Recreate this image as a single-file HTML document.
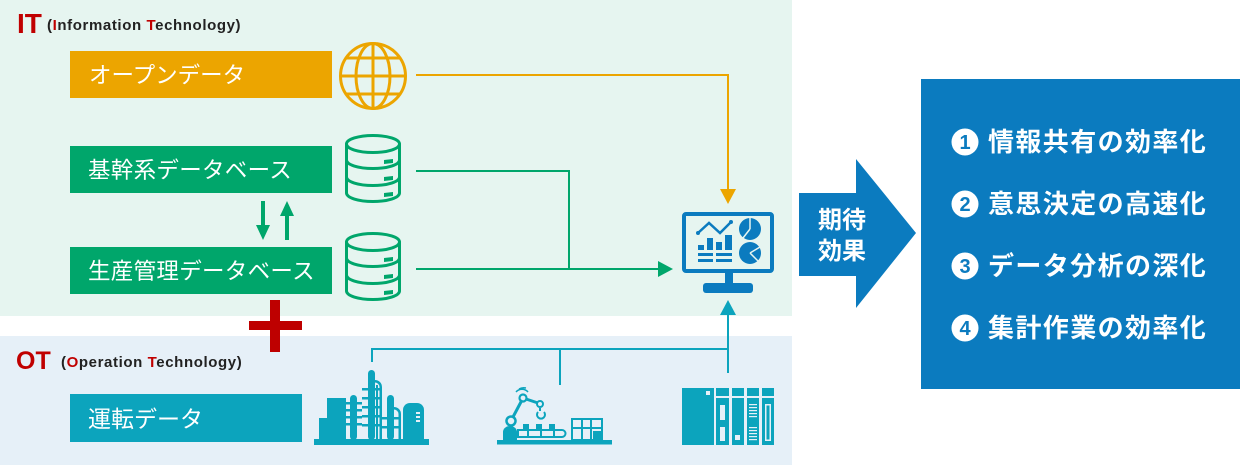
<!DOCTYPE html>
<html><head><meta charset="utf-8"><style>
html,body{margin:0;padding:0;background:#fff;}
svg{display:block;}
text{font-family:"Liberation Sans","Noto Sans CJK JP",sans-serif;}
.jp{font-family:"Noto Sans CJK JP","Liberation Sans",sans-serif;}
</style></head><body>
<svg width="1240" height="465" viewBox="0 0 1240 465" xmlns="http://www.w3.org/2000/svg">
<!-- panels -->
<rect x="0" y="0" width="792" height="316" fill="#e6f5f0"/>
<rect x="0" y="336" width="792" height="129" fill="#e6f0f8"/>

<!-- IT label -->
<text x="17" y="33" font-size="28" font-weight="bold" fill="#c00000">IT</text>
<text x="47" y="30" font-size="15" font-weight="bold" fill="#222" letter-spacing="0.6">(<tspan fill="#c00000">I</tspan>nformation <tspan fill="#c00000">T</tspan>echnology)</text>

<!-- OT label -->
<text x="16" y="369" font-size="25" font-weight="bold" fill="#c00000">OT</text>
<text x="61" y="367" font-size="15" font-weight="bold" fill="#222" letter-spacing="0.6">(<tspan fill="#c00000">O</tspan>peration <tspan fill="#c00000">T</tspan>echnology)</text>

<!-- boxes -->
<rect x="70" y="51" width="262" height="47" fill="#eca500"/>
<text class="jp" x="89" y="83" font-size="22.5" fill="#fff">オープンデータ</text>
<rect x="70" y="146" width="262" height="47" fill="#00a66b"/>
<text class="jp" x="88" y="178" font-size="22.5" fill="#fff" letter-spacing="0.3">基幹系データベース</text>
<rect x="70" y="247" width="262" height="47" fill="#00a66b"/>
<text class="jp" x="88" y="279" font-size="22.5" fill="#fff" letter-spacing="0.3">生産管理データベース</text>
<rect x="70" y="394" width="232" height="48" fill="#0ca4bd"/>
<text class="jp" x="88" y="427" font-size="23" fill="#fff">運転データ</text>

<!-- up/down arrows -->
<g fill="#00a66b">
<rect x="261" y="201" width="4" height="26"/>
<polygon points="256,225 270,225 263,240"/>
<rect x="285" y="214" width="4" height="26"/>
<polygon points="280,216 294,216 287,201"/>
</g>

<!-- red plus -->
<rect x="270" y="300" width="10" height="52" fill="#be0000"/>
<rect x="249" y="321" width="53" height="9" fill="#be0000"/>

<!-- globe -->
<g fill="none" stroke="#eca500" stroke-width="3">
<circle cx="373" cy="76" r="32.5"/>
<ellipse cx="373" cy="76" rx="17" ry="32.5"/>
<line x1="373" y1="43.5" x2="373" y2="108.5"/>
<line x1="340.5" y1="76" x2="405.5" y2="76"/>
<line x1="346" y1="58" x2="400" y2="58"/>
<line x1="346" y1="94" x2="400" y2="94"/>
</g>

<!-- DB icons -->
<g fill="none" stroke="#00a66b" stroke-width="3">
<ellipse cx="373" cy="144" rx="26.5" ry="8.5"/>
<path d="M346.5,144 v49 a26.5,8.5 0 0 0 53,0 v-49"/>
<path d="M346.5,160 a26.5,8.5 0 0 0 53,0"/>
<path d="M346.5,177 a26.5,8.5 0 0 0 53,0"/>
</g>
<g fill="#00a66b">
<polygon points="384,160 393,159 393,163 384,164"/>
<polygon points="384,177 393,176 393,180 384,181"/>
<polygon points="384,193 393,192 393,196 384,197"/>
</g>
<g transform="translate(0,98)">
<g fill="none" stroke="#00a66b" stroke-width="3">
<ellipse cx="373" cy="144" rx="26.5" ry="8.5"/>
<path d="M346.5,144 v49 a26.5,8.5 0 0 0 53,0 v-49"/>
<path d="M346.5,160 a26.5,8.5 0 0 0 53,0"/>
<path d="M346.5,177 a26.5,8.5 0 0 0 53,0"/>
</g>
<g fill="#00a66b">
<polygon points="384,160 393,159 393,163 384,164"/>
<polygon points="384,177 393,176 393,180 384,181"/>
<polygon points="384,193 393,192 393,196 384,197"/>
</g>
</g>

<!-- connectors -->
<polyline points="416,75 728,75 728,190" fill="none" stroke="#eca500" stroke-width="2"/>
<polygon points="720,189 736,189 728,204" fill="#eca500"/>
<polyline points="416,171 569,171 569,269" fill="none" stroke="#00a66b" stroke-width="2"/>
<line x1="416" y1="269" x2="660" y2="269" stroke="#00a66b" stroke-width="2"/>
<polygon points="658,261 658,277 673,269" fill="#00a66b"/>
<g stroke="#0ca4bd" stroke-width="2" fill="none">
<polyline points="372,362 372,349 728,349 728,312"/>
<line x1="560" y1="349" x2="560" y2="385"/>
<line x1="728" y1="349" x2="728" y2="373"/>
</g>
<polygon points="720,315 736,315 728,300" fill="#0ca4bd"/>

<!-- monitor -->
<g fill="#0b7bbf">
<rect x="684" y="214" width="88" height="57" rx="2" fill="none" stroke="#0b7bbf" stroke-width="4"/>
<rect x="725" y="272" width="8" height="12"/>
<rect x="703" y="283" width="50" height="10" rx="3"/>
<polyline points="698,233 709,223 720,233 731,222" fill="none" stroke="#0b7bbf" stroke-width="2.5"/>
<circle cx="698" cy="233" r="2"/><circle cx="731" cy="222" r="2"/>
<rect x="698" y="245" width="6" height="5"/>
<rect x="707" y="238" width="6" height="12"/>
<rect x="716" y="242" width="6" height="8"/>
<rect x="725" y="235" width="7" height="15"/>
<rect x="698" y="253" width="15" height="3"/><rect x="716" y="253" width="16" height="3"/>
<rect x="698" y="259" width="15" height="3"/><rect x="716" y="259" width="16" height="3"/>
<circle cx="750" cy="229" r="11"/>
<circle cx="750" cy="253" r="11"/>
</g>
<g stroke="#e6f5f0" stroke-width="1.5">
<line x1="750" y1="229" x2="750" y2="217"/><line x1="750" y1="229" x2="743" y2="238"/>
<line x1="750" y1="253" x2="760" y2="247"/><line x1="750" y1="253" x2="758" y2="261"/>
</g>

<!-- factory -->
<g fill="#0ca4bd">
<rect x="314" y="439" width="115" height="6"/>
<rect x="319" y="418" width="9" height="22"/>
<rect x="327" y="398" width="19" height="42"/>
<rect x="350" y="395" width="7" height="45" rx="3.5"/>
<rect x="346" y="402" width="16" height="2.5"/>
<rect x="346" y="409" width="16" height="2.5"/>
<rect x="346" y="416" width="16" height="2.5"/>
<rect x="346" y="423" width="16" height="2.5"/>
<rect x="368" y="370" width="7" height="70" rx="3.5"/>
<path d="M375,380 a7,7 0 0 1 7,7 v53 h-2.5 v-53 a4.5,4.5 0 0 0 -4.5,-4.5 z"/>
<rect x="376" y="385" width="2" height="55"/>
<rect x="362" y="388" width="20" height="2.5"/>
<rect x="362" y="397" width="20" height="2.5"/>
<rect x="362" y="406" width="20" height="2.5"/>
<rect x="362" y="415" width="20" height="2.5"/>
<rect x="362" y="424" width="20" height="2.5"/>
<rect x="387" y="395" width="7" height="45" rx="3.5"/>
<path d="M394,407 a7,7 0 0 1 7,7 v26 h-2.5 v-26 a4.5,4.5 0 0 0 -4.5,-4.5 z"/>
<rect x="381" y="417" width="18" height="2.5"/>
<rect x="381" y="426" width="18" height="2.5"/>
<path d="M403,440 v-30 a7,7 0 0 1 7,-7 h7 a7,7 0 0 1 7,7 v30 z"/>
</g>
<g fill="#e6f0f8">
<rect x="416" y="412" width="4" height="2"/><rect x="416" y="416" width="4" height="2"/><rect x="416" y="420" width="4" height="2"/>
</g>

<!-- robot line -->
<g fill="#0ca4bd">
<rect x="497" y="440" width="115" height="4.5"/>
<path d="M503,440 v-8 a7,6 0 0 1 14,0 v8 z"/>
<circle cx="511" cy="421" r="4.5" fill="none" stroke="#0ca4bd" stroke-width="2.5"/>
<line x1="513" y1="417" x2="522" y2="400" stroke="#0ca4bd" stroke-width="3"/>
<circle cx="523" cy="398" r="3.5" fill="none" stroke="#0ca4bd" stroke-width="2.2"/>
<line x1="526" y1="399" x2="538" y2="403" stroke="#0ca4bd" stroke-width="3"/>
<circle cx="540" cy="404" r="3" fill="none" stroke="#0ca4bd" stroke-width="2"/>
<path d="M540,408 v3 M538,412 a4,4 0 1 0 6,0" fill="none" stroke="#0ca4bd" stroke-width="2"/>
<path d="M516,392 a8,8 0 0 1 12,0 M519,389 a8,6 0 0 1 7,-1" fill="none" stroke="#0ca4bd" stroke-width="1.5"/>
<path d="M518,430 h44 a3.5,3.5 0 0 1 0,7 h-44 z" fill="none" stroke="#0ca4bd" stroke-width="2"/>
<rect x="523" y="424" width="6" height="6"/>
<rect x="536" y="424" width="6" height="6"/>
<rect x="549" y="424" width="6" height="6"/>
<rect x="527" y="430" width="2" height="7"/><rect x="540" y="430" width="2" height="7"/><rect x="553" y="430" width="2" height="7"/>
<rect x="572" y="419" width="30" height="21" fill="none" stroke="#0ca4bd" stroke-width="2"/>
<rect x="581" y="419" width="2" height="21"/><rect x="590" y="419" width="2" height="21"/>
<rect x="572" y="427" width="30" height="2"/>
<rect x="593" y="431" width="8" height="9"/>
</g>

<!-- PLC -->
<g fill="#0ca4bd">
<rect x="682" y="388" width="32" height="57"/>
<rect x="716" y="388" width="13" height="8"/><rect x="732" y="388" width="12" height="8"/>
<rect x="747" y="388" width="12" height="8"/><rect x="762" y="388" width="12" height="8"/>
<rect x="716" y="398" width="13" height="47"/><rect x="732" y="398" width="12" height="47"/>
<rect x="747" y="398" width="12" height="47"/><rect x="762" y="398" width="12" height="47"/>
</g>
<g fill="#e6f0f8">
<rect x="706" y="391" width="4" height="4"/>
<rect x="720" y="405" width="5" height="15"/>
<rect x="720" y="427" width="5" height="14"/>
<rect x="735" y="435" width="5" height="5"/>
<rect x="749" y="404" width="8" height="1.2"/><rect x="749" y="407" width="8" height="1.2"/><rect x="749" y="410" width="8" height="1.2"/><rect x="749" y="413" width="8" height="1.2"/><rect x="749" y="416" width="8" height="1.2"/>
<rect x="749" y="427" width="8" height="1.2"/><rect x="749" y="430" width="8" height="1.2"/><rect x="749" y="433" width="8" height="1.2"/><rect x="749" y="436" width="8" height="1.2"/><rect x="749" y="439" width="8" height="1.2"/>
<path d="M765,404 h6 v37 h-6 z M766.5,405.5 v34 h3 v-34 z" fill-rule="evenodd"/>
</g>

<!-- big arrow -->
<polygon points="799,193 856,193 856,159 916,233 856,308 856,276 799,276" fill="#0b7bbf"/>
<text class="jp" x="842" y="228" font-size="24" font-weight="bold" fill="#fff" text-anchor="middle">期待</text>
<text class="jp" x="842" y="259" font-size="24" font-weight="bold" fill="#fff" text-anchor="middle">効果</text>

<!-- result box -->
<rect x="921" y="79" width="319" height="310" fill="#0b7bbf"/>
<g font-weight="bold">
<circle cx="965" cy="142" r="13.5" fill="#fff"/>
<text x="965" y="149" font-size="20" fill="#0b7bbf" text-anchor="middle" font-weight="bold">1</text>
<text class="jp" x="988" y="151" font-size="26" fill="#fff" letter-spacing="1.4">情報共有の効率化</text>
<circle cx="965" cy="204" r="13.5" fill="#fff"/>
<text x="965" y="211" font-size="20" fill="#0b7bbf" text-anchor="middle" font-weight="bold">2</text>
<text class="jp" x="988" y="213" font-size="26" fill="#fff" letter-spacing="1.4">意思決定の高速化</text>
<circle cx="965" cy="266" r="13.5" fill="#fff"/>
<text x="965" y="273" font-size="20" fill="#0b7bbf" text-anchor="middle" font-weight="bold">3</text>
<text class="jp" x="988" y="275" font-size="26" fill="#fff" letter-spacing="1.4">データ分析の深化</text>
<circle cx="965" cy="328" r="13.5" fill="#fff"/>
<text x="965" y="335" font-size="20" fill="#0b7bbf" text-anchor="middle" font-weight="bold">4</text>
<text class="jp" x="988" y="337" font-size="26" fill="#fff" letter-spacing="1.4">集計作業の効率化</text>
</g>
</svg>
</body></html>
